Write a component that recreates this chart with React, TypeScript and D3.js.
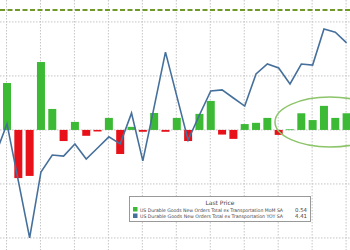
import React from "react";
import * as d3 from "d3";

const W = 350;
const H = 250;

// Month index (one bar/point per month); index -1 is just off the left edge
const periods = d3.range(-1, 31);

// MoM % (bars); null = not shown
const momValues: (number | null)[] = [
  null, 1.52, -1.56, -1.49, 2.2, 0.68, -0.36, 0.26, -0.19, -0.05, 0.39,
  -0.78, 0.1, -0.06, 0.55, -0.06, 0.39, -0.36, 0.52, 0.94, -0.15,
  -0.29, 0.19, 0.23, 0.39, -0.16, 0.02, 0.54, 0.32, 0.78, 0.39, 0.54,
];

// YoY % (line)
const yoyValues: number[] = [
  0.3, 1.41, -0.7, -2.81, -0.37, 0.26, 0.22, 0.67, 0.11, 0.52, 0.93,
  0.67, 1.81, 0.04, 2.04, 4.07, 2.44, 0.81, 1.74, 2.63, 2.67,
  2.37, 2.07, 3.26, 3.63, 3.48, 2.89, 3.63, 3.59, 4.93, 4.81, 4.41,
];

const momGrid = [-3.5, -1.75, 0, 1.75, 3.5];
const refLineYoY = 5.63;

const legendTitle = "Last Price";
const legendLabels = [
  "US Durable Goods New Orders Total ex Transportation MoM SA",
  "US Durable Goods New Orders Total ex Transportation YOY SA",
];
const legendValues = ["0.54", "4.41"];

const GREEN = "#3dba35";
const RED = "#e8111a";
const BLUE = "#46709c";

export default function App() {
  const x = d3.scaleLinear().domain([-1, 30]).range([7 - 11.32, 7 + 30 * 11.32]);
  const yMom = d3.scaleLinear().domain([-3.89, 4.21]).range([H, 0]);
  const yYoy = d3.scaleLinear().domain([-3.26, 6]).range([H, 0]);
  const barW = 8;

  const line = d3
    .line<number>()
    .x((_, i) => x(periods[i]))
    .y((d) => yYoy(d));

  const vGrid = periods.filter((p) => p >= 0 && p % 3 === 0);

  return (
    <svg
      width={W}
      height={H}
      style={{ position: "absolute", left: 0, top: 0, background: "#fff" }}
      fontFamily="'DejaVu Sans', sans-serif"
    >
      <rect x={0} y={0} width={W} height={H} fill="#fff" />
      {/* grid */}
      {momGrid.map((g) => (
        <line
          key={"h" + g}
          x1={0}
          x2={W}
          y1={yMom(g)}
          y2={yMom(g)}
          stroke="#c4c4c4"
          strokeWidth={1}
          strokeDasharray="1.5,1.5"
        />
      ))}
      {vGrid.map((p) => (
        <line
          key={"v" + p}
          x1={x(p) - 0.5}
          x2={x(p) - 0.5}
          y1={0}
          y2={H}
          stroke="#c4c4c4"
          strokeWidth={1}
          strokeDasharray="1.5,1.5"
        />
      ))}
      {/* reference dashed line */}
      <line
        x1={0}
        x2={W}
        y1={yYoy(refLineYoY)}
        y2={yYoy(refLineYoY)}
        stroke="#6f9a2a"
        strokeWidth={2}
        strokeDasharray="5,2.5"
      />
      {/* bars */}
      {momValues.map((v, i) =>
        v === null ? null : (
          <rect
            key={"b" + i}
            x={x(periods[i]) - barW / 2}
            width={barW}
            y={Math.min(yMom(v), yMom(0))}
            height={Math.max(0.8, Math.abs(yMom(v) - yMom(0)))}
            fill={v >= 0 ? GREEN : RED}
          />
        )
      )}
      {/* line */}
      <path d={line(yoyValues) || ""} fill="none" stroke={BLUE} strokeWidth={1.6} strokeLinejoin="miter" />
      {/* highlight ellipse */}
      <ellipse cx={330} cy={122} rx={55} ry={25} fill="none" stroke="#8cc46a" strokeWidth={1.5} />
      {/* legend */}
      <g>
        <rect x={129.5} y={196.5} width={181} height={25} fill="#fff" stroke="#999" strokeWidth={1} />
        <text x={220} y={205} fontSize={6} fill="#444" textAnchor="middle">
          {legendTitle}
        </text>
        {legendLabels.map((l, i) => (
          <g key={l}>
            <rect x={133} y={207 + i * 6.5} width={4.5} height={4.5} fill={i === 0 ? GREEN : BLUE} />
            <text
              x={140}
              y={211.5 + i * 6.5}
              fontSize={4.8}
              fill="#444"
              textLength={143}
              lengthAdjust="spacingAndGlyphs"
            >
              {l}
            </text>
            <text x={307} y={211.5 + i * 6.5} fontSize={5.4} fill="#444" textAnchor="end">
              {legendValues[i]}
            </text>
          </g>
        ))}
      </g>
    </svg>
  );
}
